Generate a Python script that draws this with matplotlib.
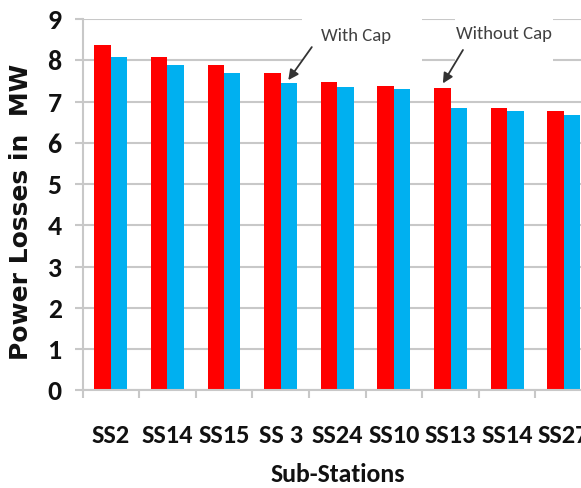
import matplotlib
matplotlib.use('Agg')
import matplotlib.pyplot as plt
from matplotlib.patches import Rectangle
from matplotlib.font_manager import FontProperties
import numpy as np

stations = ['SS2', 'SS14', 'SS15', 'SS 3', 'SS24', 'SS10', 'SS13', 'SS14', 'SS27']
without_cap = [8.37, 8.08, 7.88, 7.69, 7.47, 7.37, 7.32, 6.84, 6.77]
with_cap = [8.08, 7.88, 7.69, 7.46, 7.35, 7.30, 6.84, 6.77, 6.67]

cal = ['Carlito', 'DejaVu Sans']
red = '#ff0000'
blue = '#00b0f0'
grid_c = '#c8c8c8'
ink = '#111111'

fig = plt.figure(figsize=(5.81, 4.88), dpi=100)
# axes runs past the right edge, like the cropped original
ax = fig.add_axes([0.142, 0.20, 0.877, 0.761])

x = np.arange(len(stations))
w = 0.29
ax.bar(x - w / 2, without_cap, w, color=red, zorder=2)
ax.bar(x + w / 2, with_cap, w, color=blue, zorder=2)

ax.set_xlim(-0.5, len(stations) - 0.5)
ax.set_ylim(0, 9)
ax.set_yticks(range(10))
ax.yaxis.grid(True, color=grid_c, lw=1.5, zorder=0)
ax.set_axisbelow(True)

for s in ['top', 'right']:
    ax.spines[s].set_visible(False)
for s in ['left', 'bottom']:
    ax.spines[s].set_color(grid_c)
    ax.spines[s].set_linewidth(1.5)

ax.set_xticks(x)
ax.set_xticklabels(stations)
ax.set_xticks(np.arange(-0.5, len(stations), 1), minor=True)
ax.tick_params(axis='x', which='major', length=0, pad=24)
ax.tick_params(axis='x', which='minor', length=6, width=1.5, color=grid_c)
ax.tick_params(axis='y', length=6, width=1.5, color=grid_c, pad=9)
for lab in ax.get_xticklabels():
    lab.set_family(cal)
    lab.set_fontweight('bold')
    lab.set_fontsize(19)
    lab.set_color(ink)
for lab in ax.get_yticklabels():
    lab.set_family(cal)
    lab.set_fontweight('bold')
    lab.set_fontsize(20)
    lab.set_color(ink)

ax.set_xlabel('Sub-Stations', family=cal, fontweight='bold', fontsize=18.5,
              color=ink, labelpad=12)
ylab_font = FontProperties(family='DejaVu Sans', weight='bold', size=18)
ax.set_ylabel('Power Losses in  MW', fontproperties=ylab_font, color=ink)
ax.yaxis.set_label_coords(-0.097, 0.48)

# white boxes behind the callouts hide the gridlines
ax.add_patch(Rectangle((3.38, 7.85), 2.12, 1.5, facecolor='white', edgecolor='none',
                       zorder=1, clip_on=False))
ax.add_patch(Rectangle((6.08, 7.85), 1.73, 1.5, facecolor='white', edgecolor='none',
                       zorder=1, clip_on=False))

arrow = dict(arrowstyle='-|>', color='#333333', lw=1.3, mutation_scale=15,
             shrinkA=0, shrinkB=0)
ax.text(4.33, 8.6, 'With Cap', family=cal, fontsize=13.5, color='#404040',
        ha='center', va='center', zorder=3)
ax.annotate('', xy=(3 + w / 2 - 0.01, with_cap[3] + 0.06), xytext=(3.55, 8.32),
            arrowprops=arrow, zorder=3)
ax.text(6.95, 8.63, 'Without Cap', family=cal, fontsize=13.5, color='#404040',
        ha='center', va='center', zorder=3)
ax.annotate('', xy=(6 - w / 2 + 0.01, without_cap[6] + 0.12), xytext=(6.22, 8.25),
            arrowprops=arrow, zorder=3)

fig.savefig('out.png', dpi=100)
